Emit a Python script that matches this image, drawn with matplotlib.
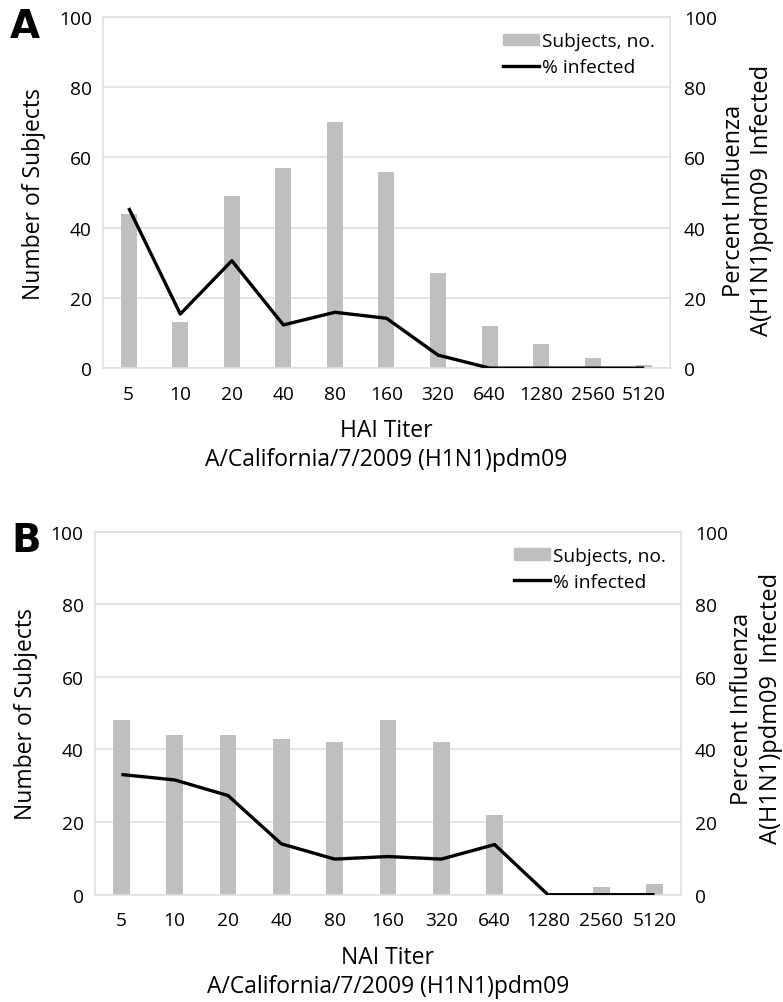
import matplotlib
matplotlib.use("Agg")
import matplotlib.pyplot as plt
from matplotlib.patches import Patch
from matplotlib.lines import Line2D
import numpy as np

plt.rcParams['font.family'] = ['Open Sans', 'DejaVu Sans']

titers = ["5", "10", "20", "40", "80", "160", "320", "640", "1280", "2560", "5120"]

hai_subjects = [44, 13, 49, 57, 70, 56, 27, 12, 7, 3, 1]
hai_pct_infected = [45.6, 15.4, 30.6, 12.3, 15.9, 14.2, 3.7, 0, 0, 0, 0]

nai_subjects = [48, 44, 44, 43, 42, 48, 42, 22, 0, 2, 3]
nai_pct_infected = [33.1, 31.6, 27.3, 14.0, 9.8, 10.5, 9.8, 13.8, 0, 0, 0]

fig = plt.figure(figsize=(7.83, 10.03), dpi=100)

BAR = "#bfbfbf"
GRID = "#e0e0e0"
TFS = 13.8
LFS = 16.5


def panel(rect, subjects, pct, xlabel, letter, letter_pos, rlabel_xy, xlpad):
    ax = fig.add_axes(rect)
    x = np.arange(len(titers))
    ax.bar(x, subjects, width=0.31, color=BAR, zorder=2)
    ax.set_xlim(-0.5, len(titers) - 0.5)
    ax.set_ylim(0, 100)
    ax.set_yticks(range(0, 101, 20))
    ax.yaxis.grid(True, color=GRID, lw=1.2, zorder=0)
    ax.set_axisbelow(True)
    for s in ax.spines.values():
        s.set_color(GRID)
        s.set_linewidth(1.2)
    ax.set_xticks(x)
    ax.set_xticklabels(titers, fontsize=TFS)
    ax.tick_params(axis='x', length=0, pad=12)
    ax.tick_params(axis='y', length=0, pad=8, labelsize=TFS)
    ax.set_ylabel("Number of Subjects", fontsize=LFS, labelpad=9)
    ax.set_xlabel(xlabel, fontsize=LFS, labelpad=xlpad, linespacing=1.3)

    ax2 = ax.twinx()
    ax2.plot(x, pct, color="black", lw=2.4, zorder=3, solid_capstyle='butt')
    ax2.set_ylim(0, 100)
    ax2.set_yticks(range(0, 101, 20))
    ax2.tick_params(axis='y', length=0, pad=10, labelsize=TFS)
    for s in ax2.spines.values():
        s.set_visible(False)
    ax2.set_ylabel("Percent Influenza\nA(H1N1)pdm09  Infected", fontsize=17,
                   linespacing=1.25, va='center', ha='center')
    ax2.yaxis.set_label_coords(*rlabel_xy)

    handles = [Patch(color=BAR), Line2D([0], [0], color="black", lw=2.4)]
    ax2.legend(handles, ["Subjects, no.", "% infected"], loc="upper right",
               frameon=False, fontsize=TFS, handlelength=1.9, handleheight=0.55,
               handletextpad=0.15, borderaxespad=0.4, labelspacing=0.4)
    fig.text(letter_pos[0], letter_pos[1], letter, fontsize=28, fontweight='bold',
             family='DejaVu Sans', ha='center', va='center')
    return ax, ax2


panel([0.1315, 0.632, 0.7242, 0.350], hai_subjects, hai_pct_infected,
      "HAI Titer\nA/California/7/2009 (H1N1)pdm09", "A", (0.0313, 0.9726),
      (1.1376, 0.48), 11)
panel([0.121, 0.107, 0.749, 0.362], nai_subjects, nai_pct_infected,
      "NAI Titer\nA/California/7/2009 (H1N1)pdm09", "B", (0.0332, 0.4606),
      (1.128, 0.515), 11)

fig.savefig("out.png", dpi=100, facecolor="white")
